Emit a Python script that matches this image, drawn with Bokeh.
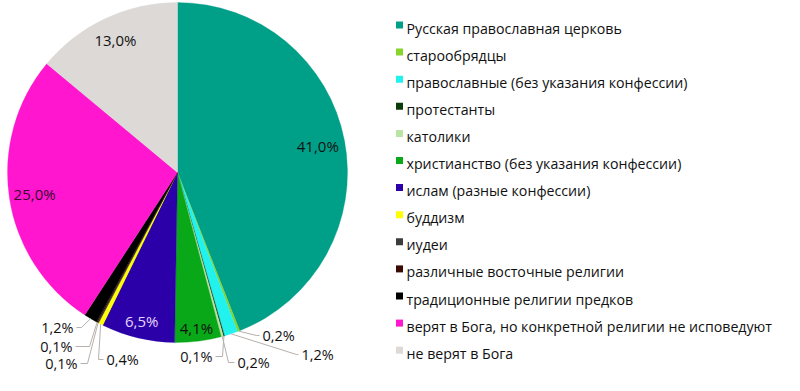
import math
from bokeh.plotting import figure
from bokeh.models import Range1d, ColumnDataSource
from bokeh.core.properties import value
from bokeh.embed import file_html
from bokeh.resources import INLINE

# ---- data ----
categories = [
    "Русская православная церковь",
    "старообрядцы",
    "православные (без указания конфессии)",
    "протестанты",
    "католики",
    "христианство (без указания конфессии)",
    " ислам (разные конфессии)",
    "буддизм",
    "иудеи",
    "различные восточные религии",
    "традиционные религии предков",
    "верят в Бога, но конкретной религии не исповедуют",
    "не верят в Бога",
]
values = [41.0, 0.2, 1.2, 0.1, 0.2, 4.1, 6.5, 0.4, 0.1, 0.1, 1.2, 25.0, 13.0]
colors = [
    "#00A088", "#86D42C", "#22F2EE", "#0B3A0B", "#B9E4A4", "#08A818", "#2C00A8",
    "#FFFF00", "#3C3C3C", "#3A0A02", "#000000", "#FF16CE", "#DCD9D7",
]

FONT = value("Open Sans")
FS = "15px"
FS_SMALL = "14.5px"
FS_LEG = "14.2px"
W, H = 784, 375
p = figure(width=W, height=H, output_backend="svg", toolbar_location=None,
           x_range=Range1d(0, W), y_range=Range1d(-H, 0),
           min_border=0, outline_line_color=None)
p.axis.visible = False
p.grid.visible = False
p.background_fill_color = "white"
p.border_fill_color = "white"

# pie geometry (pixel coordinates from top-left; y is negated for data)
cx, cy, r = 177, 172, 170
total = sum(values)
starts, ends, mids = [], [], []
cum = 0.0
for v in values:
    a0 = cum / total * 2 * math.pi
    cum += v
    a1 = cum / total * 2 * math.pi
    starts.append(math.pi / 2 - a0)
    ends.append(math.pi / 2 - a1)
    mids.append((a0 + a1) / 2)  # clockwise from top

src = ColumnDataSource(dict(start=starts, end=ends, color=colors))
p.wedge(x=cx, y=-cy, radius=r, radius_units="screen", start_angle="start",
        end_angle="end", direction="clock", fill_color="color",
        line_color="color", line_width=0.3, source=src)

labels = [("%.1f" % v).replace(".", ",") + "%" for v in values]

# inside labels: index -> (radius factor, colour)
inside = {0: (0.84, "#111111"), 5: (0.92, "#111111"), 6: (0.90, "#E6D6FF"),
          11: (0.85, "#3A0A30"), 12: (0.86, "#111111")}
for i, (f, c) in inside.items():
    x = cx + f * r * math.sin(mids[i])
    y = cy - f * r * math.cos(mids[i])
    p.text(x=[x], y=[-y], text=[labels[i]], text_font=FONT, text_font_size=FS,
           text_align="center", text_baseline="middle", text_color=c)

# outside labels with leader lines: index -> (elbow x, elbow y, end x, align)
outside = {
    1: (256, 335, 259, "left"),
    2: (296, 354, 298, "left"),
    3: (222, 356, 215, "right"),
    4: (228, 362, 234, "left"),
    7: (98, 359, 103, "left"),
    8: (87, 363, 80, "right"),
    9: (89, 346, 75, "right"),
    10: (81, 327, 76, "right"),
}
for i, (ex, ey, tx, al) in outside.items():
    sx = cx + r * math.sin(mids[i])
    sy = cy - r * math.cos(mids[i])
    p.line(x=[sx, ex, tx], y=[-sy, -ey, -ey], line_color="#B5B0AC", line_width=1)
    txt_x = tx + 3 if al == "left" else tx - 3
    p.text(x=[txt_x], y=[-ey], text=[labels[i]], text_font=FONT, text_font_size=FS_SMALL,
           text_align=al, text_baseline="middle", text_color="#111111")

# legend
lx, ly0, dy = 399, 27.5, 27.1
leg_y = [-(ly0 + k * dy) for k in range(len(categories))]
p.rect(x=[lx] * len(categories), y=[y + 3 for y in leg_y], width=7, height=7,
       width_units="screen", height_units="screen", fill_color=colors, line_color=None)
p.text(x=[lx + 7] * len(categories), y=leg_y, text=categories, text_font=FONT,
       text_font_size=FS_LEG, text_align="left", text_baseline="middle",
       text_color="#111111")

open("out.html", "w").write(file_html(p, INLINE))
